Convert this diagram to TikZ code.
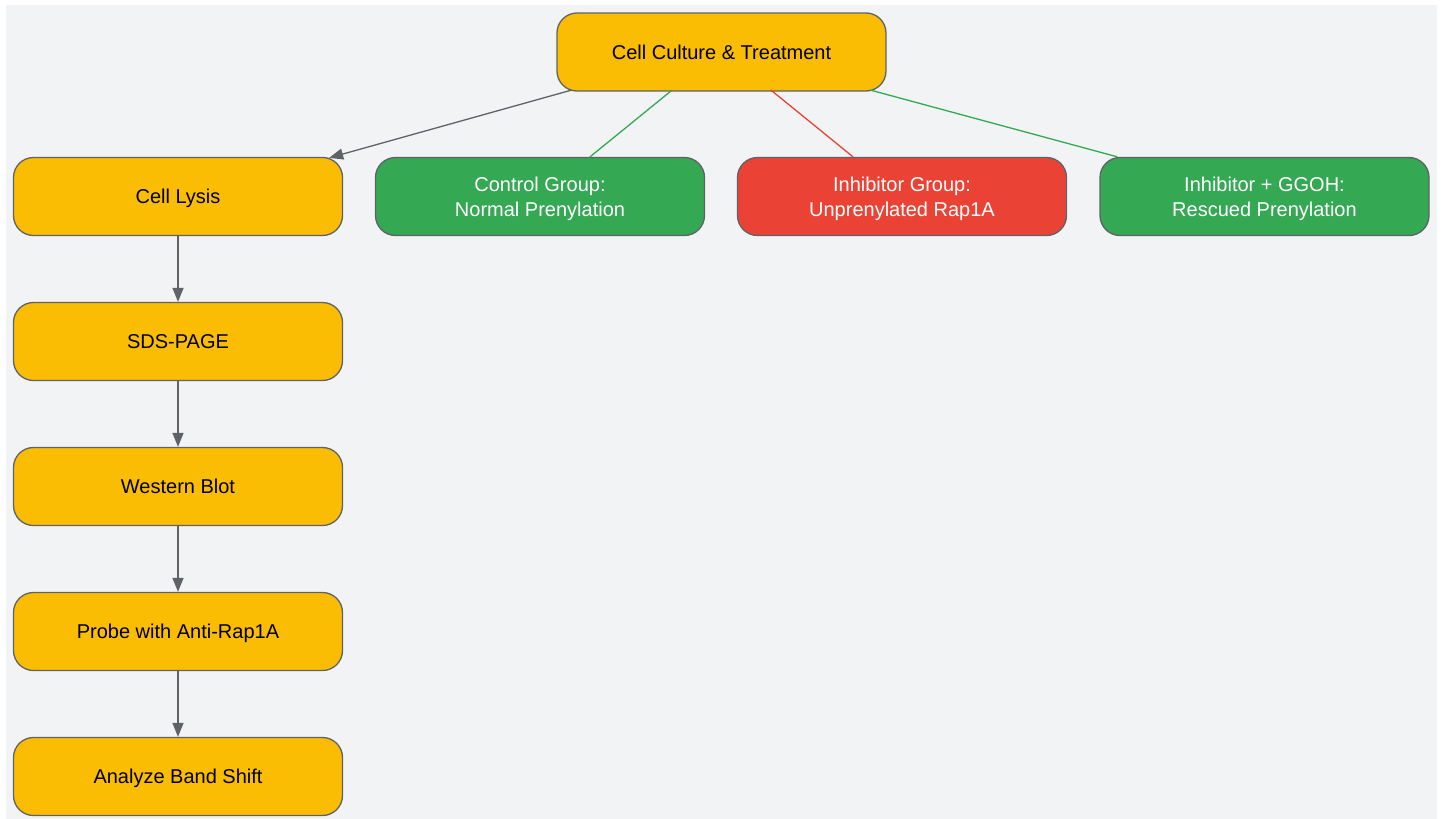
\documentclass[tikz,border=0pt]{standalone}
\usepackage{fontspec}
\setmainfont{Liberation Sans}
\usetikzlibrary{arrows.meta,calc}
\definecolor{bgc}{HTML}{F1F3F4}
\definecolor{yel}{HTML}{FBBC04}
\definecolor{grn}{HTML}{34A853}
\definecolor{redc}{HTML}{EA4335}
\definecolor{bord}{HTML}{5F6368}
\tikzset{
  box/.style={draw=bord, line width=1.3pt, rounded corners=20pt, minimum width=329pt, minimum height=78pt, inner sep=0pt, align=center, text depth=0pt, font=\fontsize{20}{25}\selectfont},
  ybox/.style={box, fill=yel, text=black},
  gbox/.style={box, fill=grn, text=white},
  rbox/.style={box, fill=redc, text=white},
  arr/.style={draw=bord, line width=1.3pt, -{Triangle[length=14pt,width=11pt]}},
  gline/.style={draw=grn, line width=1.3pt},
  rline/.style={draw=redc, line width=1.3pt}
}
\begin{document}
\begin{tikzpicture}[x=1pt,y=-1pt]
\useasboundingbox (0,0) rectangle (1443,819);
\fill[bgc] (6,5) rectangle (1437,819);
\node[ybox] (top) at (721.5,52) {Cell Culture \& Treatment};
\node[ybox] (lysis) at (178,196.5) {Cell Lysis};
\node[gbox] (ctrl) at (540,196.5) {Control Group:\\Normal Prenylation};
\node[rbox] (inh) at (902,196.5) {Inhibitor Group:\\Unprenylated Rap1A};
\node[gbox] (resc) at (1264.5,196.5) {Inhibitor + GGOH:\\Rescued Prenylation};
\node[ybox] (sds) at (178,341.5) {SDS-PAGE};
\node[ybox] (wb) at (178,486.5) {Western Blot};
\node[ybox] (probe) at (178,631.5) {Probe with Anti-Rap1A};
\node[ybox] (band) at (178,776.5) {Analyze Band Shift};
\coordinate (t1) at ($(top.south west)+(15,-1.5)$);
\coordinate (t2) at ($(top.south)+(-49.5,-1.5)$);
\coordinate (t3) at ($(top.south)+(49.5,-1.5)$);
\coordinate (t4) at ($(top.south east)+(-16,-1.5)$);
\coordinate (e1) at ($(lysis.north east)+(-14,1)$);
\coordinate (e2) at ($(ctrl.north)+(50,0)$);
\coordinate (e3) at ($(inh.north)+(-49,0)$);
\coordinate (e4) at ($(resc.north west)+(18,0)$);
\draw[arr] (t1) -- (e1);
\draw[gline] (t2) -- (e2);
\draw[rline] (t3) -- (e3);
\draw[gline] (t4) -- (e4);
\draw[arr] (lysis) -- (sds);
\draw[arr] (sds) -- (wb);
\draw[arr] (wb) -- (probe);
\draw[arr] (probe) -- (band);
\end{tikzpicture}
\end{document}
